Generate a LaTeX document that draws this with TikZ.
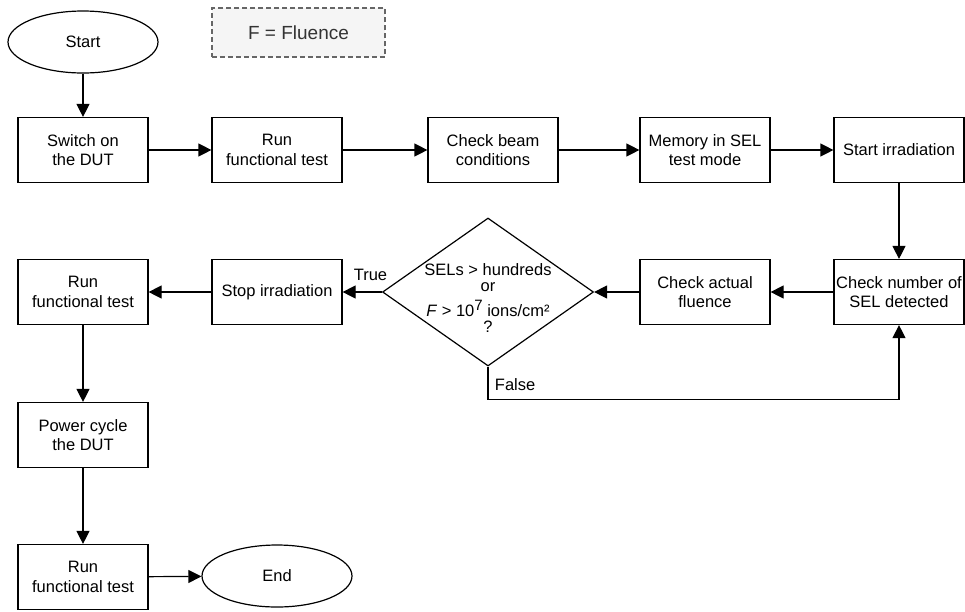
\documentclass[tikz,border=0pt]{standalone}
\usepackage{fontspec}
\setmainfont{Liberation Sans}
\usetikzlibrary{shapes.geometric,arrows.meta}

\tikzset{
  box/.style={draw, line width=1.2pt, minimum width=130pt, minimum height=65pt,
    inner sep=0pt, font=\fontsize{16.5}{19.5}\selectfont},
  term/.style={draw, ellipse, line width=1.2pt, minimum width=150pt,
    minimum height=62pt, inner sep=0pt, font=\fontsize{16.5}{19.5}\selectfont},
  decision/.style={draw, diamond, line width=1.2pt, minimum width=211pt,
    minimum height=148pt, inner sep=-18pt, font=\fontsize{16.5}{16}\selectfont},
  legend/.style={draw=black!60, fill=black!4, dash pattern=on 5pt off 3pt,
    line width=1.2pt, minimum width=173pt, minimum height=49pt,
    text=black!80, font=\fontsize{19}{22}\selectfont},
  arr/.style={line width=1.2pt, -{Triangle[length=13pt, width=13pt]}},
  lbl/.style={font=\fontsize{16.5}{19.5}\selectfont}
}
\newcommand{\supsev}{\raisebox{6pt}{\fontsize{15}{15}\selectfont 7}}

\begin{document}
\begin{tikzpicture}[x=1pt, y=-1pt, every node/.style={align=center}]
  \useasboundingbox (0,0) rectangle (965,611);

  \node[term]
    (start) at (83, 42)
    {Start};

  \node[legend]
    (leg) at (298.5, 32.5)
    {F = Fluence};

  % first row
  \node[box]
    (switch) at (83, 150)
    {Switch on\\the DUT};

  \node[box]
    (run1) at (277, 150)
    {Run\\functional test};

  \node[box]
    (beam) at (493, 150)
    {Check beam\\conditions};

  \node[box]
    (mem) at (705, 150)
    {Memory in SEL\\test mode};

  \node[box]
    (sirr) at (899, 150)
    {Start irradiation};

  % second row
  \node[box]
    (cnum) at (899, 292)
    {Check number of\\SEL detected};

  \node[box]
    (cact) at (705, 292)
    {Check actual\\fluence};

  \node[decision]
    (dec) at (488, 292)
    {\rule{0pt}{24pt}SELs > hundreds\\or\\[8pt]
     \textit{F} > 10\supsev{} ions/cm²\\?};

  \node[box]
    (stop) at (277, 292)
    {Stop irradiation};

  \node[box]
    (run2) at (83, 292)
    {Run\\functional test};

  % left column
  \node[box]
    (pcyc) at (83, 435)
    {Power cycle\\the DUT};

  \node[box]
    (run3) at (83, 577)
    {Run\\functional test};

  \node[term]
    (end) at (277, 576)
    {End};

  \draw[arr] (start) -- (switch);
  \draw[arr] (switch) -- (run1);
  \draw[arr] (run1) -- (beam);
  \draw[arr] (beam) -- (mem);
  \draw[arr] (mem) -- (sirr);
  \draw[arr] (sirr) -- (cnum);
  \draw[arr] (cnum) -- (cact);
  \draw[arr] (cact) -- (dec);
  \draw[arr] (dec) -- node[lbl, pos=0.29, above=7pt] {True} (stop);
  \draw[arr] (dec.south) -- node[lbl, pos=0.55, right=3pt] {False} ++(0,33) -| (cnum.south);
  \draw[arr] (stop) -- (run2);
  \draw[arr] (run2) -- (pcyc);
  \draw[arr] (pcyc) -- (run3);
  \draw[arr] (run3) -- (end);

\end{tikzpicture}
\end{document}
